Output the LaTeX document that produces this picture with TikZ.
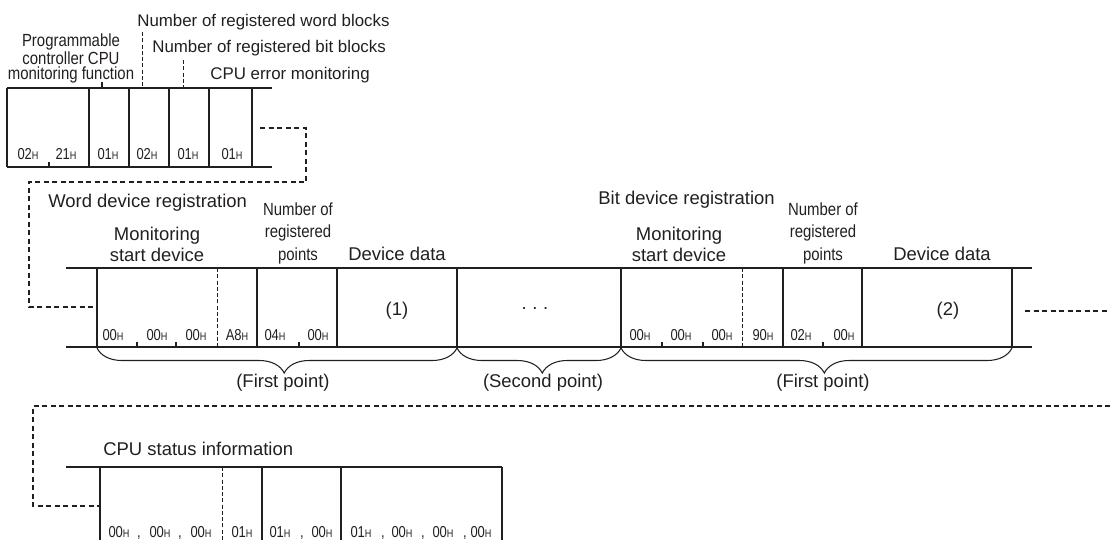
\documentclass[tikz,border=0pt]{standalone}
\usepackage{fontspec}
\setmainfont{Liberation Sans}
\newfontfamily\condfont[FakeStretch=0.85]{Liberation Sans}
\newfontfamily\cellfont[FakeStretch=0.82]{Liberation Sans}
\usetikzlibrary{decorations.pathreplacing}
\definecolor{inkgray}{RGB}{35,31,32}
\newcommand{\hx}[1]{#1{\fontsize{6.3}{6.3}\selectfont H}}

\begin{document}
\begin{tikzpicture}[x=0.2mm, y=-0.2mm,
    frame/.style={line width=0.6pt, inkgray},
    divider/.style={line width=0.5pt, inkgray, dash pattern=on 0.8mm off 0.45mm},
    link/.style={line width=1.3pt, inkgray, dash pattern=on 1mm off 0.7mm},
    label/.style={font=\fontsize{10.5}{12}\selectfont, text=inkgray, inner sep=0pt},
    toplabel/.style={label, font=\fontsize{9.6}{11}\selectfont, anchor=base west},
    narrow/.style={font=\condfont\fontsize{10}{12.8}\selectfont, text=inkgray, align=center, inner sep=0pt},
    cell/.style={font=\cellfont\fontsize{9}{10}\selectfont, text=inkgray, inner sep=0pt, anchor=base},
    pointbrace/.style={line width=0.6pt, inkgray, decorate,
      decoration={brace, mirror, amplitude=5mm, aspect=0.52}}]
  \useasboundingbox (0,0) rectangle (1110,540);

  %% TOP BLOCK: monitoring header
  \node[toplabel] (wordblk) at (137,26) {Number of registered word blocks};
  \node[toplabel] (bitblk) at (152,52) {Number of registered bit blocks};
  \node[toplabel] (cpuerr) at (210,79) {CPU error monitoring};
  \node[narrow, font=\condfont\fontsize{10}{8.5}\selectfont] (pcmon) at (71,58)
    {Programmable\\controller CPU\\monitoring function};

  \draw[frame] (7,88) -- (272,88);
  \draw[frame] (7,167) -- (272,167);
  \foreach \x in {7,89,129,169,209,252}
    \draw[frame] (\x,88) -- (\x,167);
  \draw[frame] (49,162) -- (49,167);
  \draw[frame] (102,82) -- (102,88);
  \draw[divider] (142,32) -- (142,88);
  \draw[divider] (183,60) -- (183,88);

  \foreach \x/\v [count=\i] in {28/02, 66/21, 108/01, 147/02, 188/01, 232/01}
    \node[cell] (top\i) at (\x,159) {\hx{\v}};

  %% link to word device registration
  \draw[link] (260,128) -- (306,128) -- (306,182) -- (29,182) -- (29,307) -- (94,307);

  %% MIDDLE ROW: word and bit device registration
  \node[label, anchor=base west] (wordreg) at (48,207) {Word device registration};
  \node[label, anchor=base west] (bitreg) at (598,204) {Bit device registration};

  \node[label, align=center, anchor=south] (wstart) at (157,262) {Monitoring\\start device};
  \node[narrow, anchor=south] (wpoints) at (298,264) {Number of\\registered\\points};
  \node[label, anchor=base] (wdata) at (397,260) {Device data};
  \node[label, align=center, anchor=south] (bstart) at (679,262) {Monitoring\\start device};
  \node[narrow, anchor=south] (bpoints) at (823,264) {Number of\\registered\\points};
  \node[label, anchor=base] (bdata) at (942,260) {Device data};

  \draw[frame] (66,268) -- (1032,268);
  \draw[frame] (66,347) -- (1032,347);
  \foreach \x in {97,257,337,457,621,783,862,1012}
    \draw[frame] (\x,268) -- (\x,347);
  \foreach \x in {217,742}
    \draw[divider] (\x,268) -- (\x,347);
  \foreach \x in {137,176,299,662,703,823}
    \draw[frame] (\x,342) -- (\x,347);

  \foreach \x/\v [count=\i] in {113/00, 157/00, 196/00, 237/A8, 275/04, 318/00,
      640/00, 681/00, 722/00, 763/90, 801/02, 844/00}
    \node[cell] (mid\i) at (\x,340) {\hx{\v}};

  \node[label] (data1) at (397,311) {(1)};
  \node[label] (more) at (535,310) {·\hspace{2.6pt}·\hspace{2.6pt}·};
  \node[label] (data2) at (948,311) {(2)};

  \draw[link] (1025,311) -- (1110,311);

  %% Braces
  \draw[pointbrace] (97,348) -- (457,348);
  \draw[pointbrace] (457,348) -- (621,348);
  \draw[pointbrace] (621,348) -- (1012,348);
  \node[label] (first1) at (283,383) {(First point)};
  \node[label] (second) at (543,383) {(Second point)};
  \node[label] (first2) at (823,383) {(First point)};

  %% BOTTOM ROW: CPU status information
  \draw[link] (1110,406) -- (33,406) -- (33,506) -- (99,506);
  \node[label, anchor=base west] (cpustat) at (103,455) {CPU status information};

  \draw[frame] (66,467) -- (502,467);
  \foreach \x in {100,262,341,502}
    \draw[frame] (\x,467) -- (\x,540);
  \draw[divider] (222,467) -- (222,540);

  \foreach \x/\v [count=\i] in {119/00, 160/00, 201/00, 242/01, 280/01, 322/00,
      361/01, 402/00, 443/00, 481/00}
    \node[cell] (bot\i) at (\x,537) {\hx{\v}};
  \foreach \x [count=\i] in {139,180,302,383,423,465}
    \node[cell] (comma\i) at (\x,537) {,};
\end{tikzpicture}
\end{document}
